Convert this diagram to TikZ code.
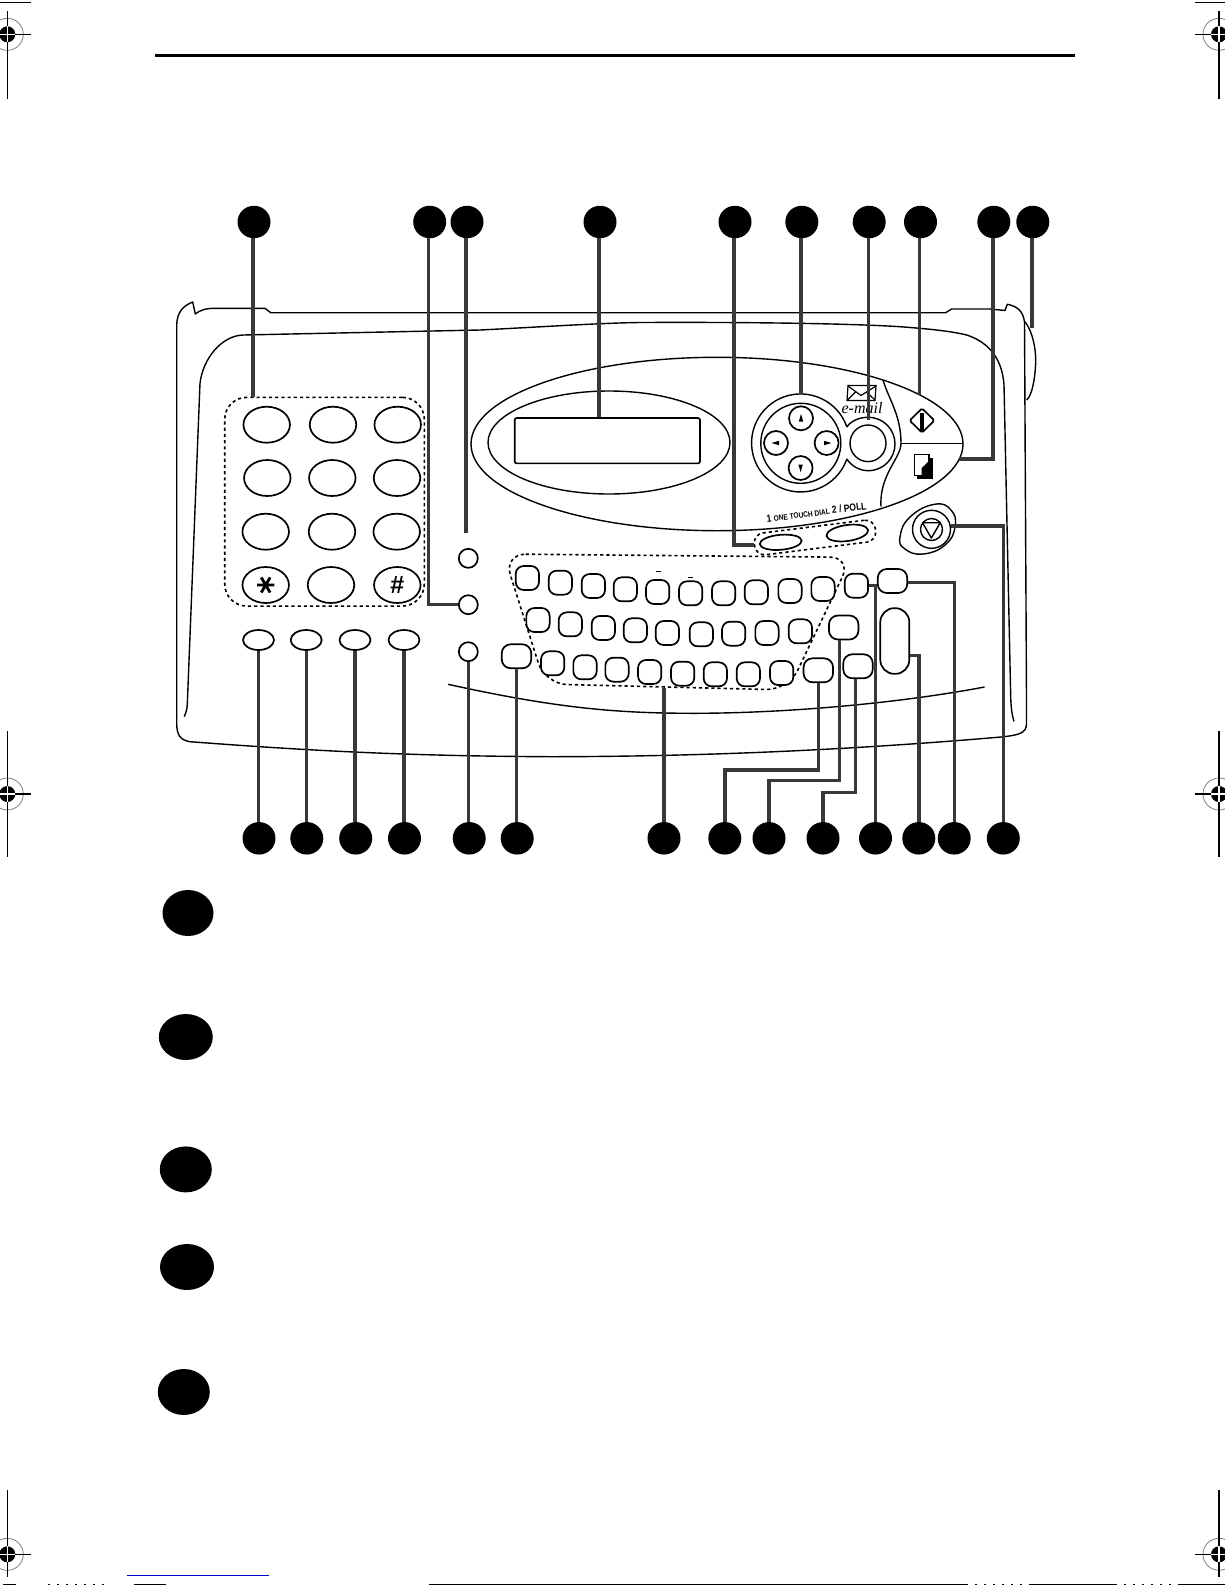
\documentclass[tikz,border=0pt]{standalone}
\usepackage{fontspec}
\setmainfont{Liberation Sans}
\newfontfamily\serifface{Liberation Serif}
\usetikzlibrary{shapes.geometric,calc}
\definecolor{leadgray}{HTML}{383838}
\tikzset{
  caseline/.style={draw=black,line width=1.4pt,line join=round},
  btnline/.style={draw=black,line width=1.7pt,fill=white},
  oval/.style={btnline,ellipse,inner sep=0pt,minimum width=#1},
  oval/.default=46pt,
  kpkey/.style={oval=46.5pt,minimum height=36pt},
  fnkey/.style={oval=31pt,minimum height=20pt},
  sidebtn/.style={oval=19pt,minimum height=19pt},
  arrowbtn/.style={oval=24pt,minimum height=24pt},
  keybtn/.style={btnline,rectangle,rounded corners=8pt,inner sep=0pt,minimum width=23.3pt,minimum height=24pt},
  widebtn/.style={btnline,rectangle,rounded corners=9pt,inner sep=0pt,minimum width=29.5pt,minimum height=24pt},
  dashbox/.style={draw=black,line width=1.6pt,dash pattern=on 3.2pt off 3pt},
  lead/.style={draw=leadgray,line width=3.4pt,line join=miter},
  bullet/.style={fill=black,draw=none,ellipse,inner sep=0pt,minimum width=33pt,minimum height=32.5pt},
  bigbullet/.style={fill=black,draw=none,ellipse,inner sep=0pt,minimum width=#1,minimum height=46pt},
  thin mark/.style={draw=black,line width=1.1pt},
}
\newcommand{\regmark}[6]{%
  \draw[gray,line width=0.8pt] (#1,#2) circle[radius=16pt];
  \fill[black] (#1,#2) circle[radius=8pt];
  \draw[thin mark] (#3,#2) -- (#4,#2);
  \draw[thin mark] (#1,#5) -- (#1,#6);
  \draw[white,line width=1.1pt] (#1-8,#2) -- (#1+8,#2) (#1,#2-8) -- (#1,#2+8);
}
\begin{document}
\begin{tikzpicture}[x=1pt,y=-1pt]
\useasboundingbox (0,0) rectangle (1225,1585);
\fill[white] (0,0) rectangle (1225,1585);
% registration marks and page furniture
\regmark{7.3}{34.3}{0}{31}{11}{98.7}
\regmark{1219}{34.3}{1195}{1225}{11}{98.7}
\regmark{7.3}{794}{0}{31}{731}{857}
\regmark{1219}{794}{1195}{1225}{731}{857}
\regmark{7.3}{1554.3}{0}{31}{1490}{1577}
\regmark{1219}{1554.3}{1195}{1225}{1490}{1577}
\draw[thin mark] (0,2.3) -- (31,2.3) (1195,2.3) -- (1225,2.3);
\draw[black,line width=3pt] (155,55.3) -- (1075,55.3);
\draw[blue!80!black,line width=1.2pt] (127,1575.3) -- (268.7,1575.3);
\draw[black,line width=1.4pt] (429,1584.4) -- (966,1584.4) (1030,1584.4) -- (1115,1584.4) (1180,1584.4) -- (1225,1584.4)
  (3,1584.4) -- (16,1584.4) (134,1584.4) -- (166,1584.4);
\draw[black,line width=1.4pt,dash pattern=on 2pt off 7pt] (966,1584.4) -- (1030,1584.4) (1115,1584.4) -- (1180,1584.4) (48,1584.4) -- (110,1584.4);
% case
\draw[caseline] (176.7,724) -- (176.7,325) .. controls (177,312) and (183,306) .. (192.7,302)
  -- (195.3,314) .. controls (200,310) and (206,308.3) .. (215,308.3) -- (265,308.3) -- (270.7,312.7)
  -- (945.7,312.7) -- (951.7,309) -- (990,309) -- (1005,310.5) -- (1007.3,304.3)
  .. controls (1016,306) and (1023,310) .. (1024.5,322) -- (1026.5,700) -- (1026.5,724)
  .. controls (1026,733) and (1020,735) .. (1001,737)
  .. controls (850,750) and (700,756.6) .. (550,756.7)
  .. controls (400,756) and (300,750) .. (190,741.7)
  .. controls (180,740) and (177,735) .. (176.7,724) -- cycle;
\draw[caseline] (184.3,716.7) .. controls (186,712) and (187,710) .. (187.3,704) -- (200,383.3)
  .. controls (203,358) and (222,335.5) .. (243.3,335) -- (480,330)
  .. controls (540,327) and (600,323) .. (640,322.5)
  .. controls (750,322) and (850,323.5) .. (900,326.7)
  .. controls (930,329) and (950,331) .. (966.7,335)
  .. controls (985,341) and (1002,355) .. (1004,385) -- (1010.7,697)
  .. controls (1011,708) and (1012,715) .. (1014,721.4);
\draw[caseline] (1025,321.7) .. controls (1033,332) and (1036,350) .. (1035.7,362)
  .. controls (1035,380) and (1032,395) .. (1026.7,400);
\draw[caseline] (448,684.3) .. controls (560,709) and (620,713.3) .. (696,713.3)
  .. controls (790,713) and (900,703) .. (984.5,687);
% panel
\node[caseline,ellipse,inner sep=0pt,minimum width=492pt,minimum height=173.4pt] (panel) at (717,444) {};
\node[caseline,ellipse,inner sep=0pt,minimum width=242pt,minimum height=103pt] (dispoval) at (609,442.5) {};
\node[btnline,rectangle,rounded corners=2pt,inner sep=0pt,minimum width=185.3pt,minimum height=45.3pt] (display) at (607.3,440.7) {};
\draw[caseline] (883,380) .. controls (889,400) and (901,415) .. (901,443.5)
  .. controls (901,458) and (879,475) .. (881,506.7);
\draw[caseline] (901,443.5) -- (963,443.5);
% navigation ring and e-mail ring, one outline
\node[inner sep=0pt,minimum size=98pt,circle] (navring) at (800.6,443) {};
\draw[caseline] (846.9,427) arc[start angle=19,end angle=341,radius=49pt];
\draw[caseline] (846.9,427) .. controls (851,420.5) and (860,417.3) .. (868,417.3)
  .. controls (884,417.3) and (895,430) .. (895,444)
  .. controls (895,458) and (884,470.7) .. (868,470.7)
  .. controls (860,470.7) and (851,466) .. (846.9,459);
\node[caseline,ellipse,fill=white,inner sep=0pt,minimum width=80pt,minimum height=80pt] (navin) at (800.8,443.3) {};
\node[arrowbtn] (up) at (801,418.3) {};
\node[arrowbtn] (down) at (800.6,468) {};
\node[arrowbtn] (left) at (776,443) {};
\node[arrowbtn] (right) at (826.6,443) {};
\fill[black] (801,414) -- (798.8,421.5) -- (803.2,421.5) -- cycle;
\fill[black] (800.6,472) -- (798.4,464.5) -- (802.8,464.5) -- cycle;
\fill[black] (771.5,443) -- (779,440.8) -- (779,445.2) -- cycle;
\fill[black] (831.5,443) -- (824,440.8) -- (824,445.2) -- cycle;
\node[caseline,ellipse,fill=white,inner sep=0pt,minimum width=36pt,minimum height=36.6pt] (mailbtn) at (868,443.3) {};
\draw[black,line width=1.2pt,fill=white] (848,385.5) -- (876,385.5) -- (875,400.5) -- (847,400.5) -- cycle;
\draw[black,line width=1.2pt] (848,386) -- (861,395.5) -- (876,386) (847.5,400) -- (856,391.5) (875,400) -- (866,391.5);
\node[font=\serifface\itshape\fontsize{16}{16}\selectfont,inner sep=0pt] (maillabel) at (862,408) {e-mail};
\node[btnline,diamond,rounded corners=1.5pt,inner sep=0pt,minimum width=25.4pt,minimum height=25pt] (startbtn) at (922,420.5) {};
\fill[black] (920,413.3) rectangle (924,430.7);
\fill[black] (917,458.3) rectangle (933,479.3);
\draw[black,line width=1.3pt,fill=white] (914.3,454.3) rectangle (929,475.3);
\fill[black] (921.7,468) -- (929,461) -- (929,475.3) -- (921.7,475.3) -- cycle;
\node[rotate=7.4,inner sep=0pt,font=\bfseries\fontsize{9.5}{10}\selectfont] (touchlabel) at (816.5,512.3) {\scalebox{0.9}[1.08]{1 {\fontsize{7.3}{8}\selectfont ONE TOUCH DIAL} 2 / POLL}};
\node[dashbox,rectangle,rounded corners=10pt,rotate=7.1,inner sep=0pt,minimum width=122pt,minimum height=22pt] (touch) at (815,537.5) {};
\node[oval=42pt,minimum height=15pt,rotate=5] (touch1) at (780.7,542.3) {};
\node[oval=42pt,minimum height=16pt,rotate=8] (touch2) at (847.3,533) {};
% stop button
\draw[caseline] plot[smooth cycle,tension=0.8] coordinates {(900,537) (910,517) (934.5,504.3) (951,510) (955,527) (945,545) (923,554) (905,549)};
\node[caseline,circle,inner sep=0pt,minimum size=38pt] (stopring) at (931.5,529.3) {};
\node[caseline,circle,inner sep=0pt,minimum size=22pt] (stopin) at (931.5,529.5) {};
\draw[caseline] (922.5,522.7) -- (940.3,522.7) -- (931.3,538) -- cycle;
% keypad
\node[dashbox,rectangle,rounded corners=22pt,inner sep=0pt,minimum width=199.6pt,minimum height=208.7pt] (kp) at (324.5,501.7) {};
\foreach \n/\x/\y in {a/266.7/424.7,b/333/424.7,c/397.7/424.7,d/267.3/478,e/332.3/478,f/397/478,g/265.7/531.7,h/332/531.7,i/396.7/531.7,j/265.7/585,k/331/585,l/397.3/585}
  \node[kpkey] (pad\n) at (\x,\y) {};
\draw[black,line width=2.8pt] (257,585) -- (274.4,585) (261.3,577.5) -- (270.1,592.5) (270.1,577.5) -- (261.3,592.5);
\node[inner sep=0pt,font=\bfseries\fontsize{25}{25}\selectfont] (hash) at (397.3,584.5) {\#};
% function keys and side buttons
\foreach \n/\x in {1/258.5,2/306.2,3/355,4/404}
  \node[fnkey] (fn\n) at (\x,640) {};
\foreach \n/\y in {1/558.3,2/604.7,3/651.7}
  \node[sidebtn] (side\n) at (468.3,\y) {};
\node[widebtn] (btnsix) at (516.5,656.3) {};
% keyboard
\draw[dashbox,rounded corners=22pt] (503.7,554) -- (851.7,557.3) -- (788.3,690) -- (545,684) -- cycle;
\foreach \x/\y [count=\i] in {142/144,241/158,340/168,436/178,533/186,632/190,731/190,829/187,930/183,1029/177,
   174/270,271/283,370/294,466/301,562/309,664/313,761/311,861/309,961/304,
   218/400,315/412,411/419,509/426,608/431,706/433,805/433,905/429}
  \node[keybtn] (key\i) at ({480+\x/3},{530+\y/3}) {};
\draw[black,line width=1.1pt] (656.3,571.3) -- (661,571.3) (688.3,577.3) -- (693,577.3);
\node[widebtn] (btna) at (818.3,670.3) {};
\node[widebtn] (btnb) at (843.7,627.5) {};
\node[widebtn] (btnc) at (858,666.3) {};
\node[keybtn] (btnd) at (856.4,585.7) {};
\node[btnline,rectangle,rounded corners=14pt,inner sep=0pt,minimum width=29pt,minimum height=65.7pt] (pill) at (894.8,641) {};
\node[widebtn] (btnf) at (892.5,581) {};
% callout bullets
\foreach \n/\x in {1/254,2/429.7,3/467,4/600,5/735,6/801.8,7/869.2,8/920.5,9/993.8,10/1032.8}
  \node[bullet] (t\n) at (\x,222) {};
\foreach \n/\x in {1/259,2/306.8,3/355.7,4/404.5,5/469.2,6/517.2,7/664,8/724.8,9/769,10/823,11/875.5,12/918.8,13/954.2,14/1003.3}
  \node[bullet] (b\n) at (\x,838.3) {};
\foreach \n/\x/\y/\w in {1/188/913/51pt,2/185.8/1037/54pt,3/185.8/1169.4/52pt,4/187/1267/54pt,5/183.8/1392/52pt}
  \node[bigbullet=\w] (big\n) at (\x,\y) {};
% connector anchors
\foreach \n in {1,...,10}
  \coordinate (l\n) at ($(t\n.south)+(-1,0)$);
\coordinate (freeThree) at (466,533);
\coordinate (kbfoot) at (664,688.3);
\coordinate (copyEnd) at (959.4,459);
\coordinate (startEnd) at (919.5,395);
\coordinate (mailEnd) at (868.2,420);
\coordinate (knobEnd) at (1031.8,328);
\coordinate (levA) at (0,770);
\coordinate (levB) at (0,780.7);
\coordinate (levC) at (0,792.7);
\coordinate (btnbfoot) at ($(btnb.south)+(-4.4,0)$);
\coordinate (btncfoot) at ($(btnc.south)+(-2.3,0)$);
\coordinate (pillside) at ($(pill.east)+(0,14.7)$);
\coordinate (btnfside) at ($(btnf.east)+(0,1.7)$);
\coordinate (stopside) at ($(stopring.east)+(0,-3.3)$);
% connectors
\draw[lead] (l1) -- (l1 |- kp.north);
\draw[lead] (l2) |- (side2.west);
\draw[lead] (l3) -- (freeThree);
\draw[lead] (l4) -- (l4 |- display.north);
\draw[lead] (touch.west) -| (l5);
\draw[lead] (l6) -- (l6 |- navring.north);
\draw[lead] (l7) -- (mailEnd);
\draw[lead] (l8) -- (startEnd);
\draw[lead] (copyEnd) -| (l9);
\draw[lead] (l10) -- (knobEnd);
\foreach \n in {1,2,3,4}
  \draw[lead] (fn\n.south) -- (fn\n.south |- b\n.north);
\draw[lead] (side3.south) -- (side3.south |- b5.north);
\draw[lead] (btnsix.south) -- (btnsix.south |- b6.north);
\draw[lead] (kbfoot) -- (b7.north);
\draw[lead] (btna.south) -- (btna.south |- levA) -| (b8.north);
\draw[lead] (btnbfoot) -- (btnbfoot |- levB) -| (b9.north);
\draw[lead] (btncfoot) -- (btncfoot |- levC) -| (b10.north);
\draw[lead] (btnd.east) -| (b11.north);
\draw[lead] (pillside) -| (b12.north);
\draw[lead] (btnfside) -| (b13.north);
\draw[lead] (stopside) -| (b14.north);
\end{tikzpicture}
\end{document}
